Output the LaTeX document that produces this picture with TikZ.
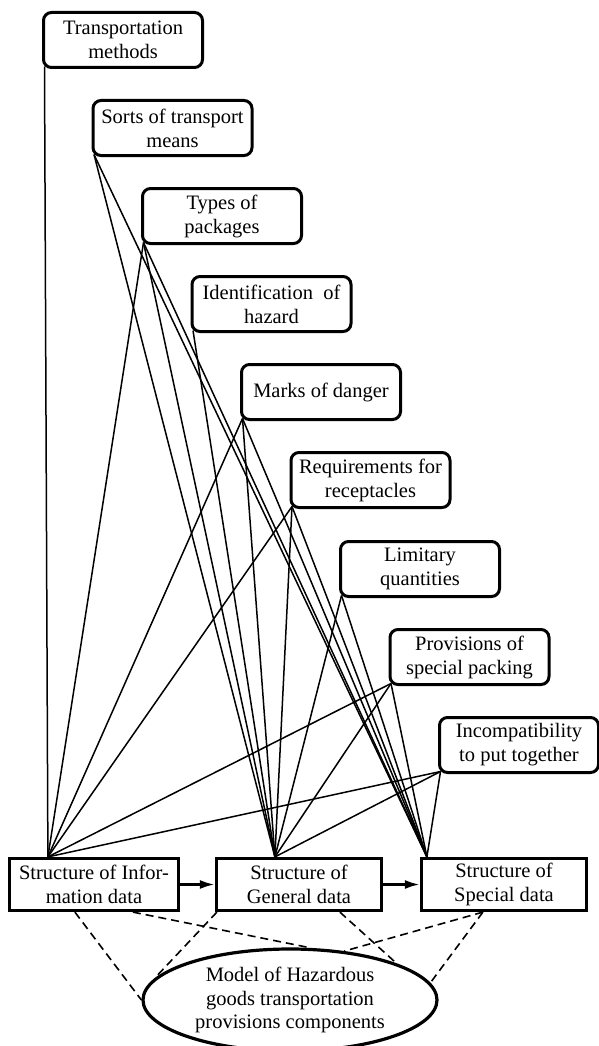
\documentclass[tikz,border=0pt]{standalone}
\usepackage{fontspec}
\setmainfont{Liberation Serif}
\usetikzlibrary{calc, shapes.geometric, arrows.meta}

\tikzset{
  source/.style={draw, line width=3pt, rounded corners=8pt, minimum width=159pt,
    minimum height=55pt, inner sep=2pt, align=center, font=\fontsize{20.5}{24}\selectfont},
  structure/.style={draw, line width=3.2pt, minimum width=165pt, minimum height=52pt,
    inner sep=2pt, align=center, font=\fontsize{20.5}{24}\selectfont},
  model/.style={draw, ellipse, line width=3.2pt, minimum width=294pt, minimum height=102pt,
    inner sep=0pt, align=center, font=\fontsize{20.5}{23.5}\selectfont},
  link/.style={line width=1.5pt},
  flow/.style={line width=2.6pt, -{Latex[length=15pt,width=9pt]}},
  dep/.style={line width=1.6pt, dash pattern=on 8pt off 5pt},
}

\begin{document}
\begin{tikzpicture}[x=1pt, y=-1pt]
% Fix the frame of the picture
\clip (0,0) rectangle (599,1046);
% Place the nine source boxes down the diagonal
\node [source] (trans) at (123,40) {Transportation\\methods};
\node [source] (sorts) at (172.5,128) {Sorts of transport\\means};
\node [source] (types) at (222,216) {Types of\\packages};
\node [source] (ident) at (271.5,304) {Identification\ \ of\\hazard};
\node [source] (marks) at (321,392) {Marks of danger};
\node [source] (recept) at (370.5,480) {Requirements for\\receptacles};
\node [source] (limit) at (420,569) {Limitary\\quantities};
\node [source] (packing) at (469.5,657) {Provisions of\\special packing};
\node [source] (incomp) at (519,745) {Incompatibility\\to put together};
% Place the three structure boxes
\node [structure, minimum width=169pt] (info) at (94,884.5) {Structure of Infor-\\mation data};
\node [structure] (general) at (299,884.5) {Structure of\\General data};
\node [structure] (special) at (504,884.5) {Structure of\\Special data};
% Place the model ellipse
\node [model] (model) at (290,1000) {Model of Hazardous\\goods transportation\\provisions components};
% Corners where the links leave the source boxes
\coordinate (trans-c) at ($(trans.south west)+(2.5,-2.5)$);
\coordinate (sorts-c) at ($(sorts.south west)+(2.5,-2.5)$);
\coordinate (types-c) at ($(types.south west)+(2.5,-2.5)$);
\coordinate (ident-c) at ($(ident.south west)+(2.5,-2.5)$);
\coordinate (marks-c) at ($(marks.south west)+(2.5,-2.5)$);
\coordinate (recept-c) at ($(recept.south west)+(2.5,-2.5)$);
\coordinate (limit-c) at ($(limit.south west)+(2.5,-2.5)$);
\coordinate (packing-c) at ($(packing.south west)+(2.5,-2.5)$);
\coordinate (incomp-c) at ($(incomp.south west)+(2.5,-2.5)$);
% Points where the links meet the structure boxes
\coordinate (info-in) at ($(info.north west)+(40,0)$);
\coordinate (general-in) at ($(general.north west)+(60,0)$);
\coordinate (special-in) at ($(special.north west)+(7,0)$);
% Draw the links into the information data
\draw [link] (trans-c) -- (info-in);
\draw [link] (types-c) -- (info-in);
\draw [link] (marks-c) -- (info-in);
\draw [link] (recept-c) -- (info-in);
\draw [link] (packing-c) -- (info-in);
\draw [link] (incomp-c) -- (info-in);
% Draw the links into the general data
\draw [link] (sorts-c) -- (general-in);
\draw [link] (types-c) -- (general-in);
\draw [link] (ident-c) -- (general-in);
\draw [link] (marks-c) -- (general-in);
\draw [link] (recept-c) -- (general-in);
\draw [link] (limit-c) -- (general-in);
\draw [link] (packing-c) -- (general-in);
\draw [link] (incomp-c) -- (general-in);
% Draw the links into the special data
\draw [link] (sorts-c) -- (special-in);
\draw [link] (types-c) -- (special-in);
\draw [link] (marks-c) -- (special-in);
\draw [link] (recept-c) -- (special-in);
\draw [link] (limit-c) -- (special-in);
\draw [link] (packing-c) -- (special-in);
\draw [link] (incomp-c) -- (special-in);
% Arrows between the structure boxes
\draw [flow] (info) -- (general);
\draw [flow] (general) -- (special);
% Dashed links down to the model
\coordinate (info-d1) at ($(info.south west)+(67,0)$);
\coordinate (info-d2) at ($(info.south west)+(125,0)$);
\coordinate (general-d1) at ($(general.south west)+(2,0)$);
\coordinate (general-d2) at ($(general.south west)+(125,0)$);
\coordinate (special-d) at ($(special.south west)+(63,0)$);
\draw [dep] (info-d1) -- (model.180);
\draw [dep] (info-d2) -- (model.68);
\draw [dep] (general-d1) -- (model.171);
\draw [dep] (general-d2) -- (model.19);
\draw [dep] (special-d) -- (model.42);
\draw [dep] (special-d) -- (model.7);
\end{tikzpicture}
\end{document}
